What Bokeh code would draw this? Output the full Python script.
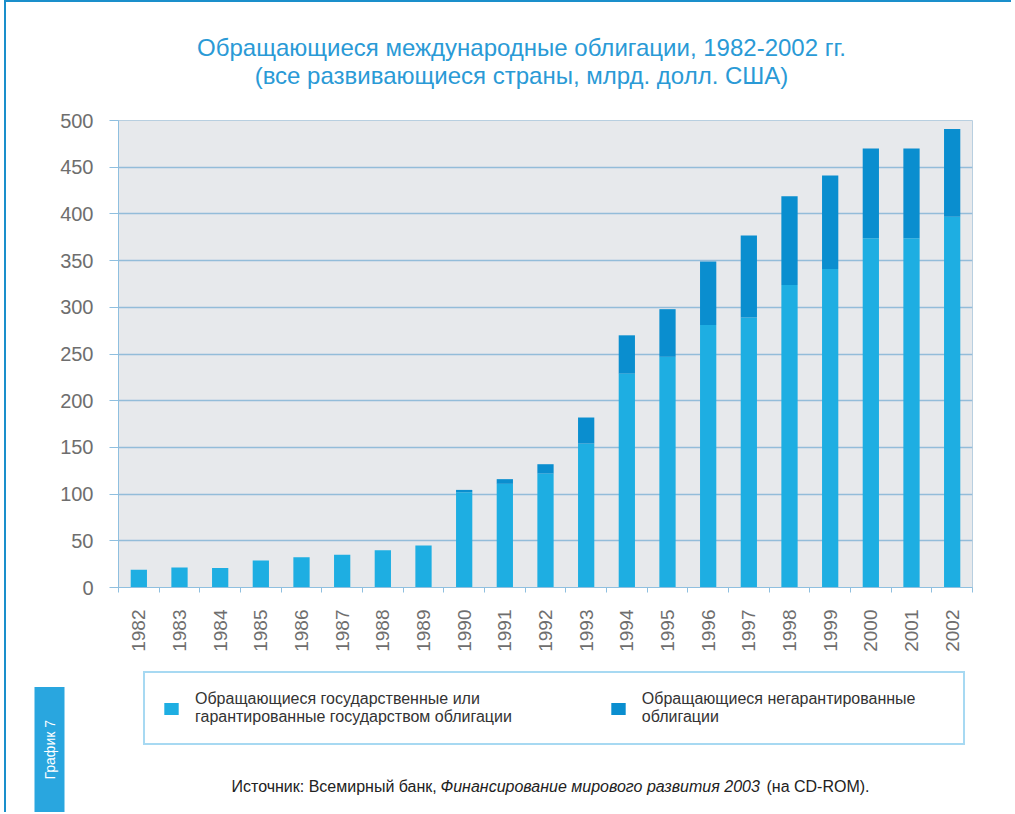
import math
from bokeh.plotting import figure
from bokeh.layouts import column
from bokeh.models import (ColumnDataSource, FixedTicker, Label, Legend, LegendItem, Range1d, Title)
from bokeh.embed import file_html
from bokeh.resources import INLINE

# ---------------- data ----------------
years = [str(y) for y in range(1982, 2003)]
gov_bonds = [19, 21.5, 21, 29, 32.5, 35, 40, 45, 102, 111, 122, 154, 229, 247, 281, 289, 324, 341, 374, 374, 397]
nongov_bonds = [0, 0, 0, 0, 0, 0, 0, 0, 2.5, 5, 10, 28, 41, 51, 68, 88, 95, 100, 96, 96, 94]
y_ticks = [0, 50, 100, 150, 200, 250, 300, 350, 400, 450, 500]

title_lines = ["Обращающиеся международные облигации, 1982-2002 гг.",
               "(все развивающиеся страны, млрд. долл. США)"]
legend_labels = ["Обращающиеся государственные или\nгарантированные государством облигации",
                 "Обращающиеся негарантированные\nоблигации"]
source_parts = ["Источник: Всемирный банк,", "Финансирование мирового развития 2003", "(на CD-ROM)."]
tab_text = "График 7"

# ---------------- styles ----------------
LIGHT = "#1eaee2"
DARK = "#0a8ecf"
TITLE_C = "#2a9ad6"
GRID_C = "#93bcd9"
AXIS_C = "#8fbfdf"
LABEL_C = "#6e6e6e"
FONT = "Liberation Sans"
W = 1005

centers = [i + 0.5 for i in range(len(years))]
bounds = [i for i in range(len(years) + 1)]
src = ColumnDataSource(dict(x=centers, gov=gov_bonds, nongov=nongov_bonds))


def text_panel(h):
    f = figure(width=W, height=h, output_backend="svg", toolbar_location=None,
               x_range=Range1d(0, 1), y_range=Range1d(0, 1),
               x_axis_location=None, y_axis_location=None,
               min_border=0, outline_line_color=None,
               background_fill_color="white", border_fill_color="white")
    f.grid.visible = False
    return f


# ---------------- title strip ----------------
top = text_panel(106)
for txt, yy in zip(title_lines, [61, 33]):
    top.add_layout(Label(x=403, y=yy, x_units="screen", y_units="screen", text=txt,
                         text_align="center", text_baseline="middle",
                         text_font=FONT, text_font_size="24px", text_color=TITLE_C))

# ---------------- chart ----------------
p = figure(width=W, height=549, output_backend="svg", toolbar_location=None,
           x_range=Range1d(0, len(years)), y_range=Range1d(0, 500),
           min_border_left=112, min_border_right=39,
           min_border_top=12, min_border_bottom=70,
           background_fill_color="#e7e9ec", border_fill_color="white",
           outline_line_color="#b8cfe0")

p.vbar_stack(["gov", "nongov"], x="x", width=0.4, source=src,
             color=[LIGHT, DARK], line_color=None)

p.xaxis.ticker = FixedTicker(ticks=centers, minor_ticks=bounds)
p.xaxis.major_label_overrides = {c: y for c, y in zip(centers, years)}
p.xaxis.major_label_orientation = math.pi / 2
p.xaxis.major_tick_line_color = None
p.xaxis.major_tick_out = 0
p.xaxis.minor_tick_line_color = AXIS_C
p.xaxis.minor_tick_out = 5
p.xaxis.minor_tick_in = 0
p.xaxis.axis_line_color = AXIS_C
p.xaxis.major_label_text_font = FONT
p.xaxis.major_label_text_font_size = "19px"
p.xaxis.major_label_text_color = LABEL_C
p.xaxis.major_label_standoff = 17

p.yaxis.ticker = FixedTicker(ticks=y_ticks)
p.yaxis.minor_tick_line_color = None
p.yaxis.major_tick_line_color = AXIS_C
p.yaxis.major_tick_out = 9
p.yaxis.major_tick_in = 0
p.yaxis.axis_line_color = AXIS_C
p.yaxis.major_label_text_font = FONT
p.yaxis.major_label_text_font_size = "20px"
p.yaxis.major_label_text_color = LABEL_C
p.yaxis.major_label_standoff = 16

p.xgrid.grid_line_color = None
p.ygrid.grid_line_color = GRID_C
p.ygrid.grid_line_width = 1.3

# ---------------- legend / source / tab strip ----------------
bot = text_panel(155)
legend_rs = bot.vbar_stack(["gov", "nongov"], x="x", width=0.4, source=src,
                           color=[LIGHT, DARK], line_color=None, visible=False)
legend = Legend(items=[LegendItem(label=legend_labels[0], renderers=[legend_rs[0]]),
                       LegendItem(label=legend_labels[1], renderers=[legend_rs[1]])],
                orientation="horizontal", location=(25, 67),
                glyph_width=18, glyph_height=15, label_standoff=15,
                label_width=304, spacing=97, padding=17, margin=0,
                label_text_font=FONT, label_text_font_size="16px",
                label_text_color="#333333",
                inactive_fill_alpha=0,
                border_line_color="#4fb4e6", border_line_width=2,
                background_fill_color="white", background_fill_alpha=1)
bot.add_layout(legend, "center")

src_x = [113, 322, 648]
src_style = ["normal", "italic", "normal"]
for txt, xx, st in zip(source_parts, src_x, src_style):
    bot.add_layout(Label(x=xx, y=26, x_units="screen", y_units="screen", text=txt,
                         text_align="left", text_baseline="middle", text_font_style=st,
                         text_font=FONT, text_font_size="16px", text_color="#222222"))

# side tab: vertical title in the left border of the bottom strip
bot.add_layout(Title(text=tab_text, align="left", vertical_align="top", offset=0,
                     text_font=FONT, text_font_size="14px", text_font_style="normal",
                     text_color="white", standoff=0,
                     background_fill_color="#29a6df",
                     padding=dict(left=33, right=33, top=7, bottom=7)), "left")

layout = column(top, p, bot, spacing=0)
layout.styles = {"border-top": "2px solid #1a8fcb", "border-left": "2px solid #1a8fcb",
                 "margin-left": "4px"}

open("out.html", "w").write(file_html(layout, INLINE))
